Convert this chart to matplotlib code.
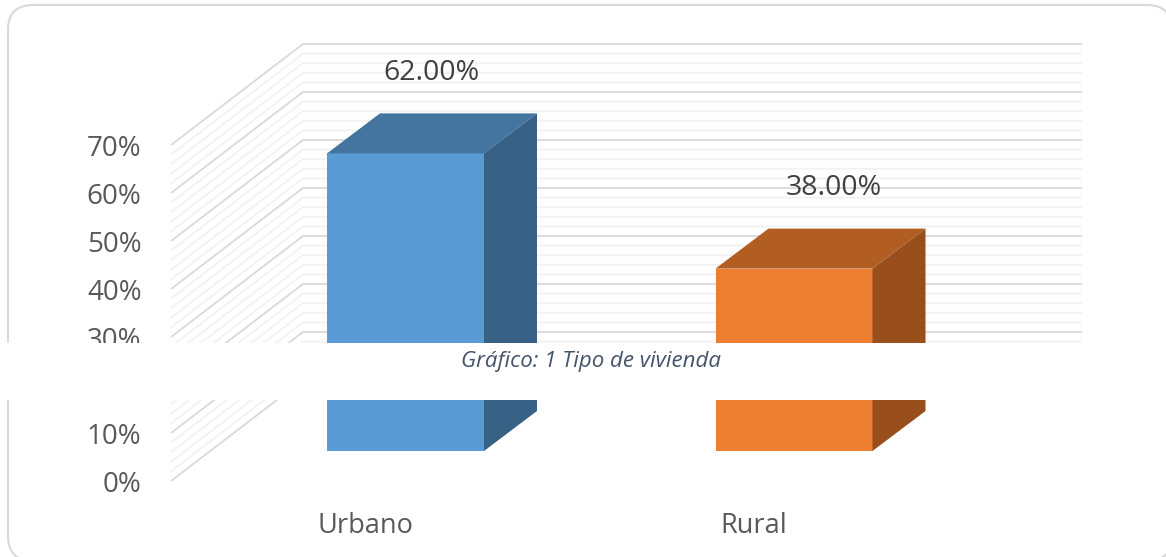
import matplotlib
matplotlib.use('Agg')
from matplotlib import pyplot as plt
from matplotlib.patches import FancyBboxPatch, Polygon, Rectangle

categorias = ['Urbano', 'Rural']
valores = [62, 38]
etiquetas = ['62.00%', '38.00%']
ticks_mayores = [0, 10, 20, 30, 40, 50, 60, 70]
ticks_menores = [2, 4, 6, 8, 12, 14, 16, 18, 22, 24, 26, 28, 32, 34, 36, 38,
                 42, 44, 46, 48, 52, 54, 56, 58, 62, 64, 66, 68]
caption = 'Gráfico: 1 Tipo de vivienda'

plt.rcParams['font.family'] = ['Open Sans', 'DejaVu Sans']

W, H = 1166, 557
fig = plt.figure(figsize=(W / 100, H / 100), dpi=100)

# marco redondeado, en pixeles de la imagen (se sale por la derecha y abajo)
fondo = fig.add_axes([0, 0, 1, 1], zorder=0)
fondo.set_xlim(0, W)
fondo.set_ylim(H, 0)
fondo.axis('off')
fondo.add_patch(FancyBboxPatch((8 + 25, 5 + 25), 1164 - 50, 556 - 50,
                               boxstyle='round,pad=25,rounding_size=25',
                               fc='white', ec='#d9d9d9', lw=1.5, clip_on=False))

# eje principal: y en % sobre el plano frontal de las barras, x en categorias
px_y = 4.8      # pixeles por 1%
px_x = 388.5    # pixeles entre categorias
y0 = 451        # fila de pixel del 0% de las barras
x0 = 405.5      # columna de pixel del centro de Urbano
izq, abajo = 145, 505
ax = fig.add_axes([izq / W, (H - abajo) / H, (W - izq) / W, abajo / H], zorder=1)
ax.set_xlim((izq - x0) / px_x, (W - x0) / px_x)
ax.set_ylim((y0 - abajo) / px_y, y0 / px_y)
ax.patch.set_visible(False)
for s in ax.spines.values():
    s.set_visible(False)

# desplazamientos de la perspectiva
frente_x, frente_y = (171 - x0) / px_x, (y0 - 481) / px_y
fondo_x, fondo_y = (303 - x0) / px_x, (y0 - 380) / px_y
fin_x = (1082 - x0) / px_x


def linea_muro(v, color, lw):
    ax.plot([frente_x, fondo_x, fin_x],
            [v + frente_y, v + fondo_y, v + fondo_y],
            color=color, lw=lw, solid_joinstyle='miter', solid_capstyle='butt', zorder=1)


for v in ticks_menores:
    linea_muro(v, '#f2f2f2', 1.3)
for v in ticks_mayores:
    linea_muro(v, '#d9d9d9', 1.3)

# barras 3d
ancho = 157 / px_x
dx = 53 / px_x
dy = 40 / px_y
colores = [('#5b9bd5', '#4474a0', '#376285'), ('#ed7d31', '#b25d22', '#994f1c')]
for i, v in enumerate(valores):
    cara, arriba, lado = colores[i]
    a = i - ancho / 2
    b = i + ancho / 2
    ax.add_patch(Rectangle((a, 0), ancho, v, fc=cara, ec='none', zorder=3))
    ax.add_patch(Polygon([(a, v), (b, v), (b + dx, v + dy), (a + dx, v + dy)],
                         fc=arriba, ec='none', zorder=3))
    ax.add_patch(Polygon([(b, 0), (b + dx, dy), (b + dx, v + dy), (b, v)],
                         fc=lado, ec='none', zorder=3))

# etiquetas de datos
lab_x = [(431 - x0) / px_x, (834 - x0) / px_x]
for i, v in enumerate(valores):
    ax.text(lab_x[i], v + 16.8, etiquetas[i], ha='center', va='center',
            fontsize=20.5, color='#404040', zorder=4)

# ticks reales del eje
ax.set_yticks([v + frente_y for v in ticks_mayores])
ax.set_yticklabels(['%d%%' % v for v in ticks_mayores], fontsize=20, color='#595959')
ax.set_xticks([i - 40 / px_x for i in range(len(categorias))])
ax.set_xticklabels(categorias, fontsize=19.5, color='#595959')
ax.tick_params(axis='both', length=0)
ax.tick_params(axis='y', pad=2.5)
ax.tick_params(axis='x', pad=5)

# banda blanca con el titulo encima de todo
tapa = fig.add_axes([0, 0, 1, 1], zorder=2)
tapa.set_xlim(0, W)
tapa.set_ylim(H, 0)
tapa.axis('off')
tapa.add_patch(Rectangle((7, 343), 1083, 57, fc='white', ec='none'))
tapa.text(591, 362, caption, ha='center', va='center', style='italic',
          fontsize=16, color='#44546a')

fig.savefig('out.png', dpi=100)
